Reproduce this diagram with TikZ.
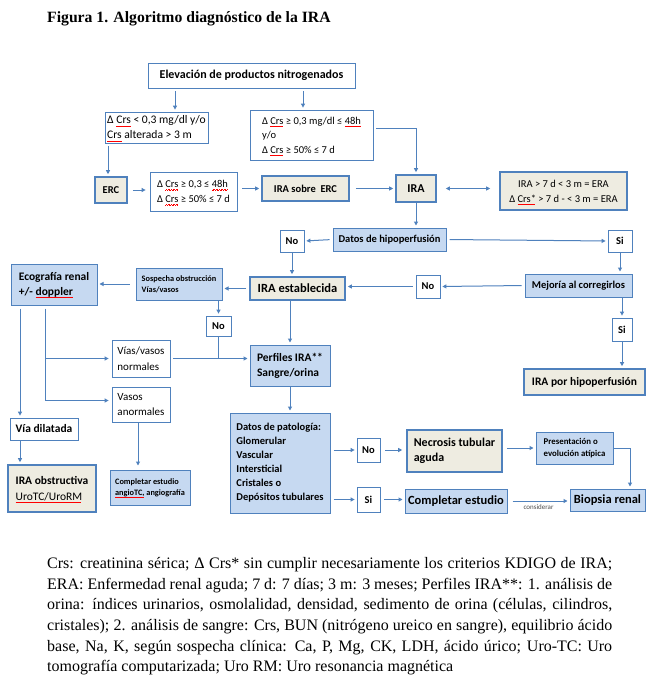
\documentclass[tikz,border=0pt]{standalone}
\usepackage{fontspec}
\setmainfont{Carlito}
\newfontfamily\capfont{Liberation Serif}
\usepackage{xcolor}
\usetikzlibrary{arrows.meta}
\definecolor{boxblue}{RGB}{79,129,189}
\definecolor{fillblue}{RGB}{198,217,241}
\definecolor{filltan}{RGB}{238,236,225}
% red wavy line of the spell checker
\newcommand\spell[1]{\setbox0=\hbox{#1}\leavevmode\rlap{\copy0}\raisebox{-2.6pt}[0pt][0pt]{\color{red}\hbox to\wd0{\leaders\hbox{\vrule width0.8pt height0.45pt\raise0.6pt\hbox{\vrule width0.8pt height0.45pt}}\hfill}}}

\begin{document}
\begin{tikzpicture}[x=1pt,y=-1pt,
  every node/.style={inner sep=2pt,font=\fontsize{10.5}{12.5}\selectfont},
  wbox/.style={draw=boxblue,fill=white,line width=0.8pt},
  bbox/.style={draw=boxblue,fill=fillblue,line width=1pt},
  tbox/.style={draw=boxblue,fill=filltan,line width=1.6pt},
  sz/.style 2 args={minimum width=#1pt,minimum height=#2pt},
  crit/.style={align=left,font=\fontsize{10.5}{15.5}\selectfont},
  bold/.style={font=\fontsize{10.5}{12.5}\selectfont\bfseries},
  big/.style={font=\fontsize{12.5}{15}\selectfont\bfseries},
  small/.style={font=\fontsize{8.3}{11}\selectfont\bfseries},
  arr/.style={draw=boxblue,line width=1pt,-{Triangle[length=4pt,width=4pt]},shorten <=3pt,shorten >=2pt},
  ln/.style={draw=boxblue,line width=1pt}]
\fill[white] (0,0) rectangle (658,685);
\useasboundingbox (0,0) rectangle (658,685);

\node[anchor=base west,inner sep=0pt,font=\capfont\bfseries\fontsize{15.7}{18}\selectfont] (title) at (47,23) {Figura 1. Algoritmo diagnóstico de la IRA};

% top part
\node[wbox,sz={207}{25},font=\fontsize{12}{14}\selectfont\bfseries] (elev) at (251.5,75.5) {Elevación de productos nitrogenados};
\node[wbox,sz={103}{31},crit,font=\fontsize{11.6}{15}\selectfont] (crit1) at (156.5,127.5) {Δ \spell{Crs} < 0,3 mg/dl y/o\\\spell{Crs} alterada > 3 m};
\node[wbox,sz={123}{50},crit,font=\fontsize{10.5}{14.5}\selectfont] (crit2) at (311.5,135) {Δ \spell{Crs} ≥ 0,3 mg/dl ≤ \spell{48h}\\y/o\\Δ \spell{Crs} ≥ 50\% ≤ 7 d};
\node[tbox,sz={32}{26},bold] (erc) at (111,190) {ERC};
\node[wbox,sz={87}{39},crit] (crit3) at (193.5,191.5) {Δ \spell{Crs} ≥ 0,3 ≤ \spell{48h}\\Δ \spell{Crs} ≥ 50\% ≤ 7 d};
\node[tbox,sz={87}{25},bold] (irasob) at (305.5,188.5) {IRA sobre~ ERC};
\node[tbox,sz={40}{27},font=\fontsize{12}{14}\selectfont\bfseries] (ira) at (416,188.5) {IRA};
\node[tbox,sz={127}{38},crit,align=center,font=\fontsize{10.5}{15}\selectfont] (era) at (563.5,191) {IRA > 7 d < 3 m = ERA\\Δ \spell{Crs*} > 7 d - < 3 m = ERA};

% hipoperfusion
\node[bbox,sz={113}{23},bold] (hipo) at (389.5,239.5) {Datos de hipoperfusión};
\node[wbox,sz={24}{22},bold] (no1) at (292,241) {No};
\node[wbox,sz={24}{22},bold] (si1) at (620,241) {Si};
\node[tbox,sz={95}{23},big] (irest) at (297.5,288.5) {IRA establecida};
\node[bbox,sz={107}{23},bold] (mejo) at (578.5,285.5) {Mejoría al corregirlos};
\node[wbox,sz={24}{23},bold] (no2) at (428,286.5) {No};
\node[wbox,sz={20}{23},bold] (si2) at (622,329.5) {Si};
\node[tbox,sz={121}{26},font=\fontsize{11.5}{14}\selectfont\bfseries] (irahipo) at (584.5,382) {IRA por hipoperfusión};

% obstruccion
\node[bbox,sz={86}{32},small,align=left] (sosp) at (179,284) {Sospecha obstrucción\\Vías/vasos};
\node[bbox,sz={86}{41},font=\fontsize{11.5}{15}\selectfont\bfseries,align=left] (eco) at (54,284.5) {Ecografía renal\\+/- \spell{doppler}};
\node[wbox,sz={25}{20},bold] (no3) at (218.5,326) {No};
\node[bbox,sz={80}{41},font=\fontsize{11.5}{15}\selectfont\bfseries,align=left] (perf) at (290,365.5) {Perfiles IRA**\\Sangre/orina};
\node[wbox,sz={58}{37},crit,font=\fontsize{11}{15.5}\selectfont] (vnorm) at (141,358.5) {Vías/vasos\\normales};
\node[wbox,sz={58}{35},crit,font=\fontsize{11}{15.5}\selectfont] (vanorm) at (141,404.5) {Vasos\\anormales};
\node[wbox,sz={68}{22},font=\fontsize{11.5}{14}\selectfont\bfseries] (vdil) at (44,429) {Vía dilatada};
\node[tbox,sz={88}{47},font=\fontsize{11.5}{15.5}\selectfont,align=left] (iraobs) at (52,488.5) {\textbf{IRA obstructiva}\\\spell{UroTC/UroRM}};
\node[bbox,sz={80}{35},small,align=left] (compang) at (150,487.5) {Completar estudio\\\spell{angioTC,} angiografía};

% patologia
\node[bbox,sz={100}{100},align=left,font=\fontsize{10.5}{14}\selectfont\bfseries] (patol) at (280,463) {Datos de patología:\\Glomerular\\Vascular\\Intersticial\\Cristales o\\Depósitos tubulares};
\node[wbox,sz={23}{24},bold] (no4) at (368.5,450) {No};
\node[tbox,sz={95}{42},align=left,font=\fontsize{12}{15}\selectfont\bfseries] (necro) at (454.5,451) {Necrosis tubular\\aguda};
\node[bbox,sz={77}{32},align=left,font=\fontsize{8.8}{11.5}\selectfont\bfseries] (present) at (574.5,448) {Presentación o\\evolución atípica};
\node[wbox,sz={23}{25},bold] (si3) at (368.5,499.5) {Si};
\node[bbox,sz={102}{24},big] (compl) at (456,501) {Completar estudio};
\node[bbox,sz={75}{22},big] (biop) at (607.5,500) {Biopsia renal};

% connectors
\draw[arr] (elev.south -| 175,0) -- (crit1.north -| 175,0);
\draw[arr] (elev.south -| 303,0) -- (crit2.north -| 303,0);
\draw[arr] (crit2.east |- 0,128) -| (ira.north);
\draw[arr] (crit1.south -| 108,0) -- (erc.north -| 108,0);
\draw[arr,shorten <=5pt,shorten >=4pt] (erc.east) -- (erc.east -| crit3.west);
\draw[arr,shorten <=5pt] (crit3.east |- irasob.west) -- (irasob.west);
\draw[arr,shorten <=6pt] (irasob.east) -- (ira.west);
\draw[arr,{Triangle[length=4pt,width=4pt]}-{Triangle[length=4pt,width=4pt]},shorten <=9pt,shorten >=9pt] (ira.east) -- (ira.east -| era.west);
\draw[arr,shorten <=0pt] (ira.south) -- (ira.south |- hipo.north);
\draw[arr] (hipo.west) -- (no1.east);
\draw[arr] (hipo.east) -- (si1.west);
\draw[arr,shorten <=0pt] (no1.south) -- (no1.south |- irest.north);
\draw[arr,shorten <=0pt] (si1.south) -- (si1.south |- mejo.north);
\draw[arr] (mejo.west) -- (no2.east);
\draw[arr] (no2.west) -- (no2.west -| irest.east);
\draw[arr,shorten <=0pt] (mejo.south -| si2.north) -- (si2.north);
\draw[arr,shorten <=0pt] (si2.south) -- (si2.south |- irahipo.north);
\draw[arr] (irest.west) -- (irest.west -| sosp.east);
\draw[arr,shorten <=6pt] (sosp.west) -- (sosp.west -| eco.east);
\draw[arr,shorten <=0pt] (sosp.south -| no3.north) -- (no3.north);
\draw[ln] (no3.south) -- (no3.south |- vnorm.east);
\draw[arr] (vnorm.east) -- (vnorm.east -| perf.west);
\draw[arr,shorten <=0pt] (irest.south -| perf.north) -- (perf.north);
\draw[arr] (eco.south -| 20,0) -- (vdil.north -| 20,0);
\draw[arr,shorten >=3pt] (eco.south -| 45,0) |- ([yshift=4pt]vanorm.west);
\draw[arr,shorten <=0pt,shorten >=3pt] (45,0 |- vnorm.west) -- (vnorm.west);
\draw[arr,shorten <=0pt] (vdil.south -| 20,0) -- (iraobs.north -| 20,0);
\draw[arr,shorten <=0pt,shorten >=4pt] (vanorm.south -| 138,0) -- (compang.north -| 138,0);
\draw[arr,shorten <=0pt] (perf.south) -- (perf.south |- patol.north);
\draw[arr] (patol.east |- no4.west) -- (no4.west);
\draw[arr,shorten <=5pt,shorten >=4pt] (no4.east) -- (no4.east -| necro.west);
\draw[arr,shorten <=4pt] (necro.east |- present.west) -- (present.west);
\draw[arr,shorten <=0pt] (present.east) -| (630,0 |- biop.north);
\draw[arr] (patol.east |- si3.west) -- (si3.west);
\draw[arr,shorten <=4pt] (si3.east) -- (si3.east -| compl.west);
\draw[arr,shorten <=5pt] (compl.east) -- node[below=1pt,font=\fontsize{7}{8}\selectfont,text=black!70] (consid) {considerar} (compl.east -| biop.west);

% caption
\node[anchor=north west,inner sep=0pt,text width=565pt,align=justify,font=\capfont\fontsize{16}{20.7}\selectfont] (cap) at (47,557) {Crs: creatinina sérica; Δ Crs* sin cumplir necesariamente los criterios KDIGO de IRA;\linebreak
ERA: Enfermedad renal aguda; 7 d: 7 días; 3 m: 3 meses; Perfiles IRA**: 1. análisis de\linebreak
orina: índices urinarios, osmolalidad, densidad, sedimento de orina (células, cilindros,\linebreak
cristales); 2. análisis de sangre: Crs, BUN (nitrógeno ureico en sangre), equilibrio ácido\linebreak
base, Na, K, según sospecha clínica: Ca, P, Mg, CK, LDH, ácido úrico; Uro-TC: Uro\linebreak
tomografía computarizada; Uro RM: Uro resonancia magnética};
\end{tikzpicture}
\end{document}
